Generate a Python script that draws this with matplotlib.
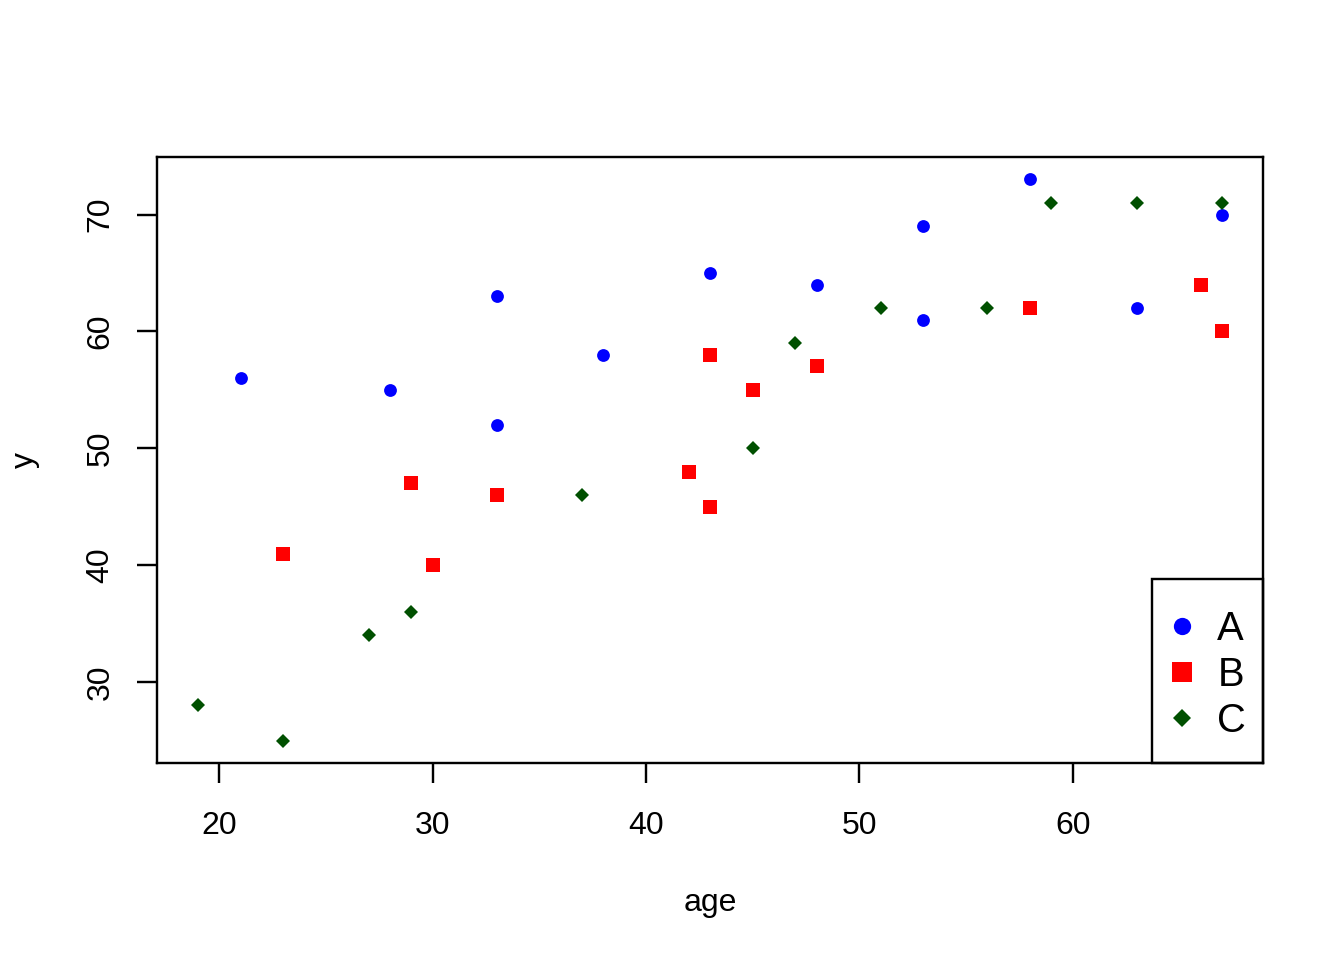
import matplotlib
matplotlib.use("Agg")
import matplotlib.pyplot as plt
from matplotlib.patches import Rectangle
from matplotlib.transforms import offset_copy

plt.rcParams['font.family'] = ['Liberation Sans', 'DejaVu Sans']

# group A
age_a = [21, 28, 33, 33, 38, 43, 48, 53, 53, 58, 63, 67]
y_a = [56, 55, 63, 52, 58, 65, 64, 69, 61, 73, 62, 70]
# group B
age_b = [23, 29, 30, 33, 42, 43, 43, 45, 48, 58, 66, 67]
y_b = [41, 47, 40, 46, 48, 58, 45, 55, 57, 62, 64, 60]
# group C
age_c = [19, 23, 27, 29, 37, 45, 47, 51, 56, 59, 63, 67]
y_c = [28, 25, 34, 36, 46, 50, 59, 62, 62, 71, 71, 71]

labels = ['A', 'B', 'C']
xticks = [20, 30, 40, 50, 60]
yticks = [30, 40, 50, 60, 70]

fig = plt.figure(figsize=(7, 5), dpi=192)
ax = fig.add_axes([157/1344, 1 - 763/960, (1263 - 157)/1344, (763 - 157)/960])

ax.plot(age_a, y_a, 'o', color='blue', ms=4.8, mew=0, label=labels[0])
ax.plot(age_b, y_b, 's', color='red', ms=5.4, mew=0, label=labels[1])
ax.plot(age_c, y_c, 'D', color='#005000', ms=3.7, mew=0, label=labels[2])

# R style 4% padding
allx = age_a + age_b + age_c
ally = y_a + y_b + y_c
dx = (max(allx) - min(allx)) * 0.04
dy = (max(ally) - min(ally)) * 0.04
ax.set_xlim(min(allx) - dx, max(allx) + dx)
ax.set_ylim(min(ally) - dy, max(ally) + dy)

ax.set_xticks(xticks)
ax.set_yticks(yticks)
ax.set_yticklabels([str(v) for v in yticks], rotation=90, va='center')
ax.tick_params(labelsize=12, length=7.5, width=0.9)
ax.tick_params(axis='x', pad=10.5)
ax.tick_params(axis='y', pad=8)
for s in ax.spines.values():
    s.set_linewidth(0.9)

ax.set_xlabel('age', fontsize=12, labelpad=17.5)
ax.set_ylabel('y', fontsize=12, labelpad=17)

# legend content without frame, box drawn afterwards like R's legend()
leg = ax.legend(loc='lower right', bbox_to_anchor=(1, 0),
                bbox_transform=offset_copy(ax.transAxes, fig=fig, x=1.2, y=1.2, units='points'),
                borderaxespad=0, frameon=False, fontsize=15,
                labelspacing=0.2, handlelength=0.7, handletextpad=0.525,
                borderpad=0.5, markerscale=1.35)

fig.canvas.draw()
bb = leg.get_window_extent().transformed(ax.transAxes.inverted())
extra = 4.1 * fig.dpi / 72 / ax.bbox.height
left = bb.x0 + 1.2 * fig.dpi / 72 / ax.bbox.width
ax.add_patch(Rectangle((left, 0), 1 - left, bb.y1 + extra, transform=ax.transAxes,
                       fill=False, edgecolor='black', lw=0.9, clip_on=False, zorder=5))

fig.savefig('out.png', dpi=192)
